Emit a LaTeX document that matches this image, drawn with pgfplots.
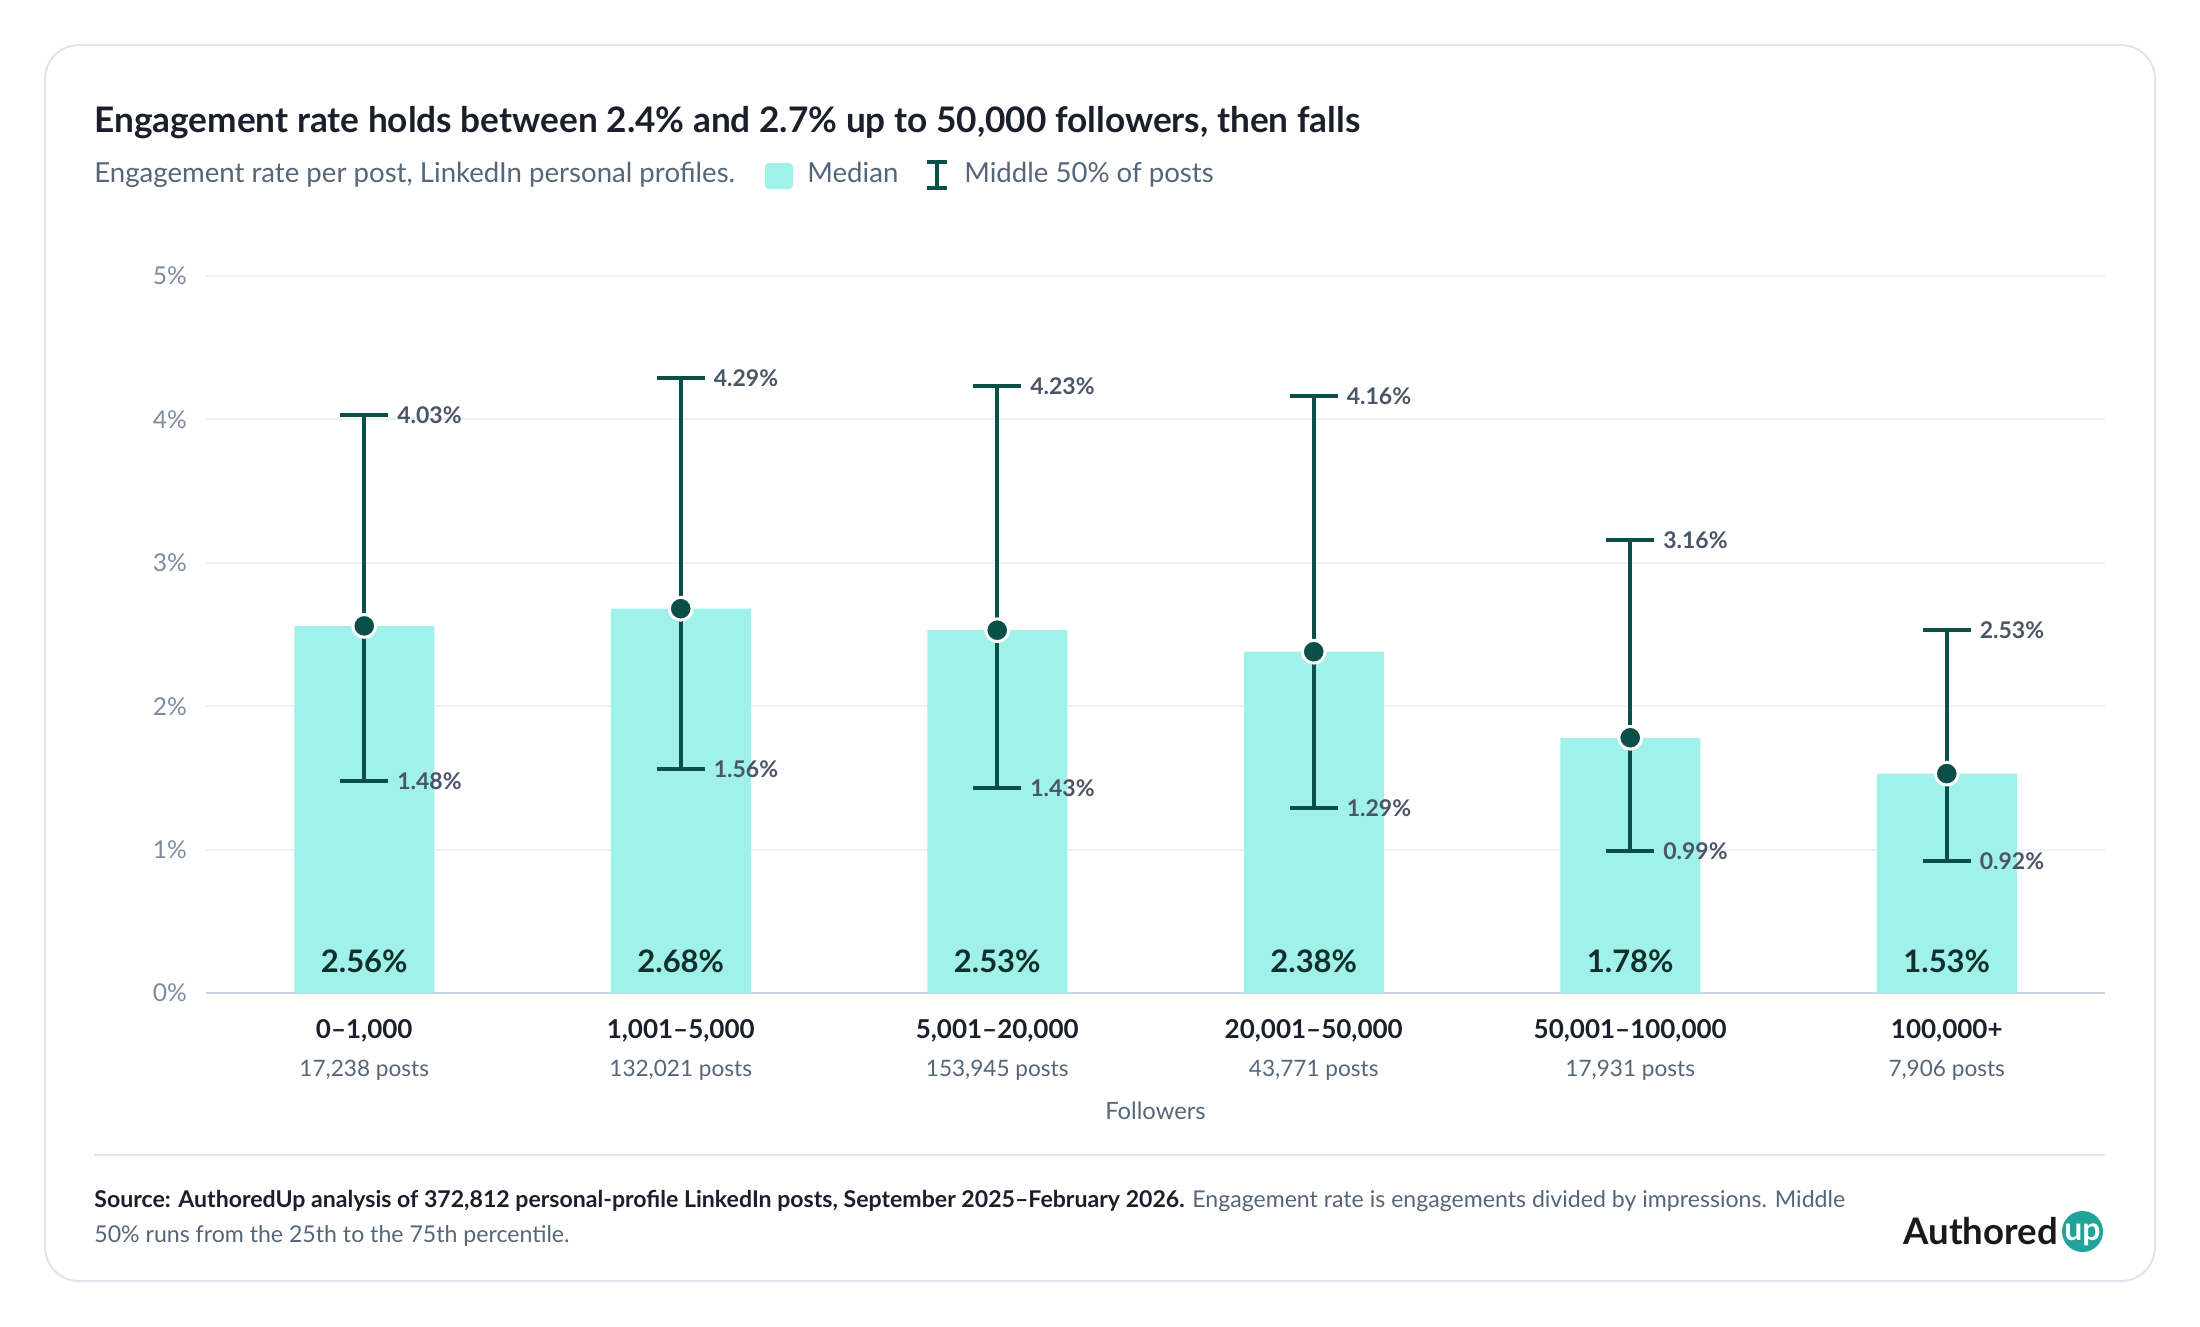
\documentclass[border=0pt]{standalone}
\usepackage{pgfplots}
\pgfplotsset{compat=1.18}
\usepackage{pgfplotstable}
\usepackage{fontspec}
\setmainfont{Lato}
\definecolor{barc}{HTML}{9FF1E9}
\definecolor{dteal}{HTML}{0B5048}
\definecolor{labc}{HTML}{4A5568}
\definecolor{tickc}{HTML}{7D8BA1}
\definecolor{titc}{HTML}{1A1F2B}
\definecolor{medc}{HTML}{10302C}
\definecolor{subc}{HTML}{55657A}
\definecolor{gridc}{HTML}{EEF1F5}
\definecolor{basec}{HTML}{C9D4E2}
\definecolor{cardc}{HTML}{DDE5EE}
\definecolor{logoc}{HTML}{22A39A}
\pgfplotstableread{
x med q1 q3
0 2.56 1.48 4.03
1 2.68 1.56 4.29
2 2.53 1.43 4.23
3 2.38 1.29 4.16
4 1.78 0.99 3.16
5 1.53 0.92 2.53
}\datatable
\begin{document}
\begin{tikzpicture}
\begin{scope}[x=0.5pt,y=-0.5pt]
\useasboundingbox (0,0) rectangle (2200,1327);
\draw[cardc, line width=1pt, rounded corners=17pt] (45,45) rectangle (2155,1281);
\node[anchor=base west, inner sep=0, text=titc, font=\fontsize{17.6}{20}\selectfont\bfseries] at (94,133) {Engagement rate holds between 2.4\% and 2.7\% up to 50,000 followers, then falls};
\node[anchor=base west, inner sep=0, text=subc, font=\fontsize{13.8}{16}\selectfont] at (94,183) {Engagement rate per post, LinkedIn personal profiles.};
\fill[barc, rounded corners=2pt] (765,163) rectangle (793,189);
\node[anchor=base west, inner sep=0, text=subc, font=\fontsize{13.8}{16}\selectfont] at (807,183) {Median};
\draw[dteal, line width=2pt] (927,162) -- (947,162) (937,162) -- (937,188) (927,188) -- (947,188);
\node[anchor=base west, inner sep=0, text=subc, font=\fontsize{13.8}{16}\selectfont] at (964,183) {Middle 50\% of posts};
\draw[cardc, line width=1pt] (94,1155) -- (2105,1155);
\node[anchor=base west, inner sep=0, align=left, text=subc, font=\fontsize{11.55}{17.5}\selectfont] at (94,1242) {{\color{titc}\bfseries Source: AuthoredUp analysis of 372,812 personal-profile LinkedIn posts, September 2025–February 2026.} Engagement rate is engagements divided by impressions. Middle\\50\% runs from the 25th to the 75th percentile.};
\node[anchor=base west, inner sep=0, font=\fontsize{18.3}{22}\selectfont\bfseries, text=black!90] at (1903,1244) {Authored};
\fill[logoc] (2082.5,1231.5) circle (20.5);
\node[text=white, font=\fontsize{16}{17}\selectfont\bfseries, inner sep=0, anchor=base] at (2082.5,1240) {up};
\end{scope}
\begin{axis}[
  at={(103pt,-496.5pt)}, anchor=south west,
  scale only axis, width=949.5pt, height=358.5pt,
  xmin=-0.5, xmax=5.5, ymin=0, ymax=5,
  clip=false,
  axis x line*=bottom, axis y line*=left,
  x axis line style={draw=basec, line width=1pt},
  y axis line style={draw=none},
  major tick length=0pt,
  ymajorgrids, grid style={draw=gridc, line width=1pt},
  ytick={0,1,2,3,4,5},
  yticklabel={\pgfmathprintnumber{\tick}\%},
  /pgf/number format/assume math mode=true,
  yticklabel style={text=tickc, font=\fontsize{12.3}{14}\selectfont, xshift=-6pt},
  xtick={0,1,2,3,4,5},
  xticklabels={
    {\textbf{0–1,000}\\[0pt]{\color{subc}\fontsize{11.3}{19}\selectfont 17,238 posts}},
    {\textbf{1,001–5,000}\\[0pt]{\color{subc}\fontsize{11.3}{19}\selectfont 132,021 posts}},
    {\textbf{5,001–20,000}\\[0pt]{\color{subc}\fontsize{11.3}{19}\selectfont 153,945 posts}},
    {\textbf{20,001–50,000}\\[0pt]{\color{subc}\fontsize{11.3}{19}\selectfont 43,771 posts}},
    {\textbf{50,001–100,000}\\[0pt]{\color{subc}\fontsize{11.3}{19}\selectfont 17,931 posts}},
    {\textbf{100,000+}\\[0pt]{\color{subc}\fontsize{11.3}{19}\selectfont 7,906 posts}}},
  xticklabel style={align=center, text=titc, font=\fontsize{13}{19}\selectfont, yshift=-9.5pt},
  xlabel={Followers},
  xlabel style={text=subc, font=\fontsize{11.9}{14}\selectfont, yshift=-4pt},
]
\addplot[ybar, bar width=70pt, fill=barc, draw=none] table[x=x,y=med]{\datatable};
\addplot[draw=none, mark=none, forget plot,
  error bars/.cd, y dir=both, y explicit,
  error mark=|,
  error bar style={line width=2pt, color=dteal},
  error mark options={line width=2pt, mark size=12pt, color=dteal}]
  table[x=x, y=med, y error plus expr=\thisrow{q3}-\thisrow{med}, y error minus expr=\thisrow{med}-\thisrow{q1}]{\datatable};
\addplot[only marks, mark=*, mark size=5.7pt, mark options={fill=dteal, draw=white, line width=1.5pt}] table[x=x,y=med]{\datatable};
\addplot[only marks, mark=none, point meta=y,
  nodes near coords={\pgfmathprintnumber[fixed,fixed zerofill,precision=2]{\pgfplotspointmeta}\%},
  nodes near coords style={anchor=west, xshift=13pt, text=labc, font=\fontsize{11.5}{13}\selectfont\bfseries}]
  table[x=x,y=q3]{\datatable};
\addplot[only marks, mark=none, point meta=y,
  nodes near coords={\pgfmathprintnumber[fixed,fixed zerofill,precision=2]{\pgfplotspointmeta}\%},
  nodes near coords style={anchor=west, xshift=13pt, text=labc, font=\fontsize{11.5}{13}\selectfont\bfseries}]
  table[x=x,y=q1]{\datatable};
\addplot[only marks, mark=none, point meta=\thisrow{med},
  nodes near coords={\pgfmathprintnumber[fixed,fixed zerofill,precision=2]{\pgfplotspointmeta}\%},
  nodes near coords style={anchor=center, text=medc, font=\fontsize{15.5}{17}\selectfont\bfseries}]
  table[x=x,y expr=0.22]{\datatable};
\end{axis}
\end{tikzpicture}
\end{document}
